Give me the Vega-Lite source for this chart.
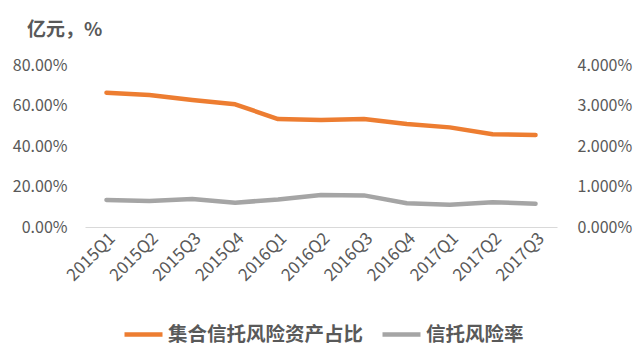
{
  "$schema": "https://vega.github.io/schema/vega-lite/v6.json",
  "autosize": {"type": "none"},
  "width": 472,
  "height": 162,
  "padding": {"left": 85, "top": 65, "right": 83, "bottom": 130},
  "background": "white",
  "config": {
    "view": {"stroke": null},
    "font": "Noto Sans CJK SC",
    "axis": {"labelColor": "#595959", "labelFont": "Noto Sans CJK SC", "labelFontSize": 16, "grid": false, "ticks": false, "domain": false, "title": null}
  },
  "title": {
    "text": "亿元，%",
    "anchor": "start",
    "frame": "group",
    "dx": -58,
    "offset": 17,
    "fontSize": 19,
    "fontWeight": "bold",
    "color": "#595959",
    "font": "Noto Sans CJK SC"
  },
  "data": {
    "values": [
      {"q": "2015Q1", "a": 0.663, "b": 0.00667},
      {"q": "2015Q2", "a": 0.652, "b": 0.0064},
      {"q": "2015Q3", "a": 0.627, "b": 0.0069},
      {"q": "2015Q4", "a": 0.606, "b": 0.0060},
      {"q": "2016Q1", "a": 0.533, "b": 0.0068},
      {"q": "2016Q2", "a": 0.529, "b": 0.0079},
      {"q": "2016Q3", "a": 0.533, "b": 0.0078},
      {"q": "2016Q4", "a": 0.509, "b": 0.00585},
      {"q": "2017Q1", "a": 0.492, "b": 0.0055},
      {"q": "2017Q2", "a": 0.458, "b": 0.0061},
      {"q": "2017Q3", "a": 0.454, "b": 0.00575}
    ]
  },
  "encoding": {
    "x": {
      "field": "q",
      "type": "nominal",
      "sort": null,
      "scale": {"type": "point", "padding": 0.5},
      "axis": {"labelAngle": -45, "labelFontSize": 17, "domain": true, "domainColor": "#d9d9d9", "domainWidth": 1, "labelPadding": 3}
    }
  },
  "layer": [
    {
      "mark": {"type": "line", "strokeWidth": 4.5, "strokeCap": "round", "strokeJoin": "round"},
      "encoding": {
        "y": {"field": "a", "type": "quantitative", "scale": {"domain": [0, 0.8]}, "axis": {"orient": "left", "format": ".2%", "values": [0, 0.2, 0.4, 0.6, 0.8], "labelPadding": 18}},
        "color": {
          "datum": "集合信托风险资产占比",
          "type": "nominal",
          "scale": {"domain": ["集合信托风险资产占比", "信托风险率"], "range": ["#ED7D31", "#A5A5A5"]},
          "legend": {
            "orient": "none",
            "legendX": 37,
            "legendY": 248,
            "direction": "horizontal",
            "title": null,
            "symbolType": "stroke",
            "symbolSize": 1444,
            "symbolStrokeWidth": 4.5,
            "labelFontSize": 19.5,
            "labelFontWeight": "bold",
            "labelColor": "#595959",
            "labelFont": "Noto Sans CJK SC",
            "labelLimit": 400,
            "columnPadding": 9,
            "labelOffset": 3
          }
        }
      }
    },
    {
      "mark": {"type": "line", "strokeWidth": 4.5, "strokeCap": "round", "strokeJoin": "round"},
      "encoding": {
        "y": {"field": "b", "type": "quantitative", "scale": {"domain": [0, 0.04]}, "axis": {"orient": "right", "format": ".3%", "values": [0, 0.01, 0.02, 0.03, 0.04], "labelPadding": 20}},
        "color": {"datum": "信托风险率", "type": "nominal"}
      }
    }
  ],
  "resolve": {"scale": {"y": "independent"}}
}
